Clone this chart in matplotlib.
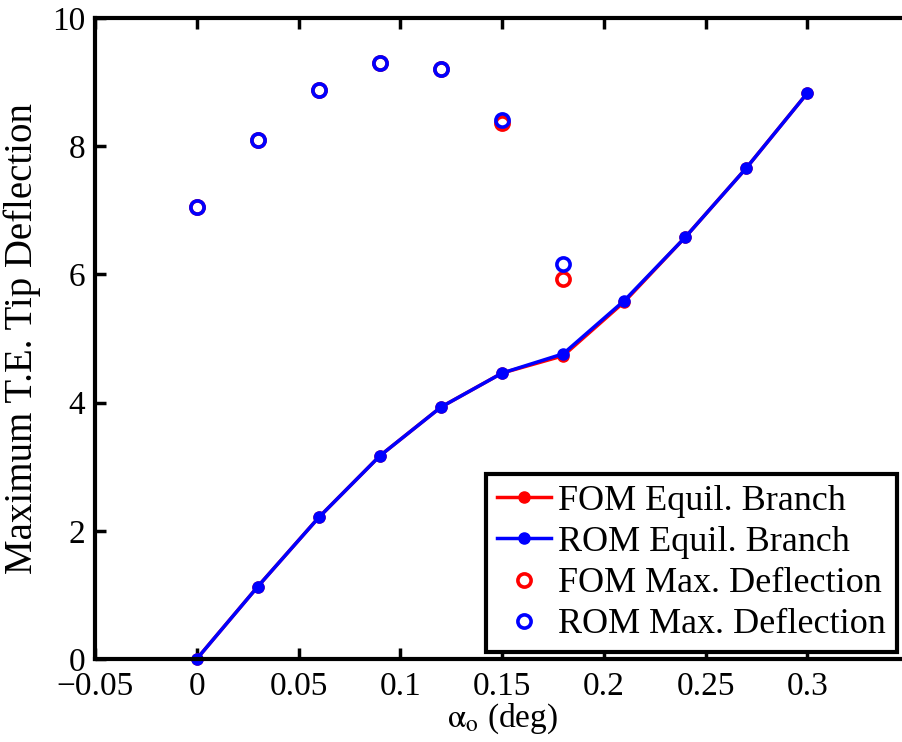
import numpy as np
import matplotlib
matplotlib.use('Agg')
import matplotlib.pyplot as plt

plt.rcParams['font.family'] = 'Liberation Serif'
plt.rcParams['mathtext.fontset'] = 'stix'

# Pitch angle (deg)
alpha = [0.0, 0.03, 0.06, 0.09, 0.12, 0.15, 0.18, 0.21, 0.24, 0.27, 0.30]
fom_equil = [0.0, 1.13, 2.21, 3.17, 3.93, 4.46, 4.73, 5.57, 6.58, 7.66, 8.83]
rom_equil = [0.0, 1.13, 2.21, 3.17, 3.93, 4.46, 4.76, 5.59, 6.58, 7.66, 8.83]

# Maximum deflection during the LCO
alpha_max = [0.0, 0.03, 0.06, 0.09, 0.12, 0.15, 0.18]
fom_max = [7.05, 8.09, 8.88, 9.29, 9.20, 8.36, 5.93]
rom_max = [7.05, 8.09, 8.88, 9.29, 9.20, 8.41, 6.16]

fs = 24

fig = plt.figure(figsize=(9.02, 7.42), dpi=100)
ax = fig.add_axes([0.1053, 0.1119, 0.9027, 0.8639])

ax.plot(alpha, fom_equil, 'r-', marker='o', ms=8, lw=2.5, clip_on=False,
        label='FOM Equil. Branch')
ax.plot(alpha, rom_equil, 'b-', marker='o', ms=8, lw=2.5, clip_on=False,
        label='ROM Equil. Branch')
ax.plot(alpha_max, fom_max, 'o', color='r', mfc='none', mew=2.6, ms=9.5,
        label='FOM Max. Deflection')
ax.plot(alpha_max, rom_max, 'o', color='b', mfc='none', mew=2.6, ms=9.5,
        label='ROM Max. Deflection')

ax.set_xlim(-0.05, 0.35)
ax.set_ylim(0, 10)
ax.set_xticks([-0.05, 0, 0.05, 0.1, 0.15, 0.2, 0.25, 0.3])
ax.set_xticklabels(['\u22120.05', '0', '0.05', '0.1', '0.15', '0.2', '0.25', '0.3'])
ax.set_yticks([0, 2, 4, 6, 8, 10])
ax.tick_params(direction='in', length=8, width=2.5, labelsize=fs,
               top=True, right=False)
ax.tick_params(axis='x', pad=9)
ax.tick_params(axis='y', pad=7)
for s in ax.spines.values():
    s.set_linewidth(3)

ax.set_xlabel(r'$\mathrm{\alpha}_{\mathrm{o}}$ (deg)', fontsize=24, labelpad=0)
ax.set_ylabel('Maximum T.E. Tip Deflection', fontsize=28, labelpad=8)

leg = ax.legend(loc='lower right', bbox_to_anchor=(0.9945, 0.121),
                bbox_transform=fig.transFigure, fontsize=26, numpoints=1,
                handlelength=1.5, handletextpad=0.2, borderpad=0.3,
                labelspacing=0.22, fancybox=False, framealpha=1,
                borderaxespad=0)
leg.get_frame().set_edgecolor('k')
leg.get_frame().set_linewidth(3)

fig.savefig('out.png', dpi=100)
